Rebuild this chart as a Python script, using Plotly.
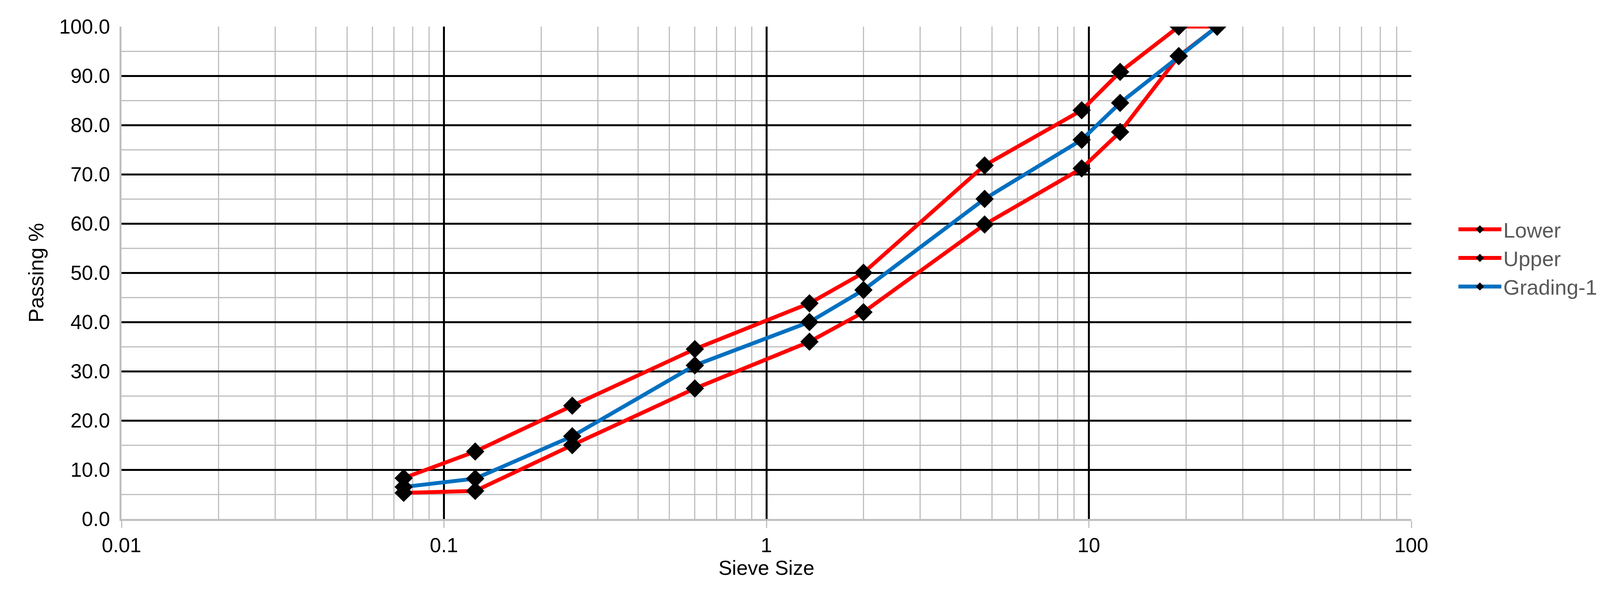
import plotly.graph_objects as go

# Sieve sizes (mm) and percent passing
sieve = [0.075, 0.125, 0.25, 0.6, 1.36, 2.0, 4.75, 9.5, 12.5, 19.0, 25.0]
lower = [5.3, 5.7, 15.0, 26.5, 36.0, 42.0, 59.8, 71.2, 78.6, 94.0, 100.0]
upper = [8.3, 13.7, 23.0, 34.5, 43.8, 50.0, 71.8, 83.0, 90.8, 100.0, 100.0]
grading = [6.5, 8.2, 16.8, 31.2, 40.0, 46.5, 65.0, 77.0, 84.5, 94.0, 100.0]

x_ticks = [0.01, 0.1, 1, 10, 100]
x_labels = ['0.01', '0.1', '1', '10', '100']
x_minor = [m * d for d in [0.01, 0.1, 1, 10] for m in range(2, 10)]

FONT = 'Liberation Sans, Arial'
marker = dict(symbol='diamond', size=36, color='black')

fig = go.Figure()
fig.add_trace(go.Scatter(x=sieve, y=lower, name='Lower', mode='lines+markers',
                         line=dict(color='#ff0000', width=10), marker=marker))
fig.add_trace(go.Scatter(x=sieve, y=upper, name='Upper', mode='lines+markers',
                         line=dict(color='#ff0000', width=10), marker=marker))
fig.add_trace(go.Scatter(x=sieve, y=grading, name='Grading-1', mode='lines+markers',
                         line=dict(color='#0070c0', width=10), marker=marker))

fig.update_layout(
    width=4128, height=1520,
    margin=dict(l=303, r=523, t=60, b=200),
    plot_bgcolor='white', paper_bgcolor='white',
    font=dict(family=FONT, size=52, color='black'),
    xaxis=dict(
        type='log', range=[-2, 2],
        tickvals=x_ticks, ticktext=x_labels,
        showgrid=True, gridcolor='black', gridwidth=5,
        minor=dict(tickvals=x_minor, showgrid=True, gridcolor='#bfbfbf', gridwidth=3),
        showline=True, linecolor='#bfbfbf', linewidth=5,
        ticks='outside', tickcolor='#bfbfbf', ticklen=18, tickwidth=3,
        title=dict(text='Sieve Size', font=dict(size=52), standoff=0),
        zeroline=False,
    ),
    yaxis=dict(
        range=[0, 100], dtick=10, tickformat='.1f',
        showgrid=True, gridcolor='black', gridwidth=5,
        minor=dict(dtick=5, showgrid=True, gridcolor='#bfbfbf', gridwidth=3),
        showline=True, linecolor='#bfbfbf', linewidth=5,
        ticks='', ticklabelstandoff=14,
        title=dict(text='Passing %', font=dict(size=54), standoff=24),
        zeroline=False,
    ),
    legend=dict(x=1.035, y=0.53, xanchor='left', yanchor='middle',
                font=dict(size=54, color='#595959'), itemwidth=110,
                tracegroupgap=0),
)

fig.write_html("out.html")
